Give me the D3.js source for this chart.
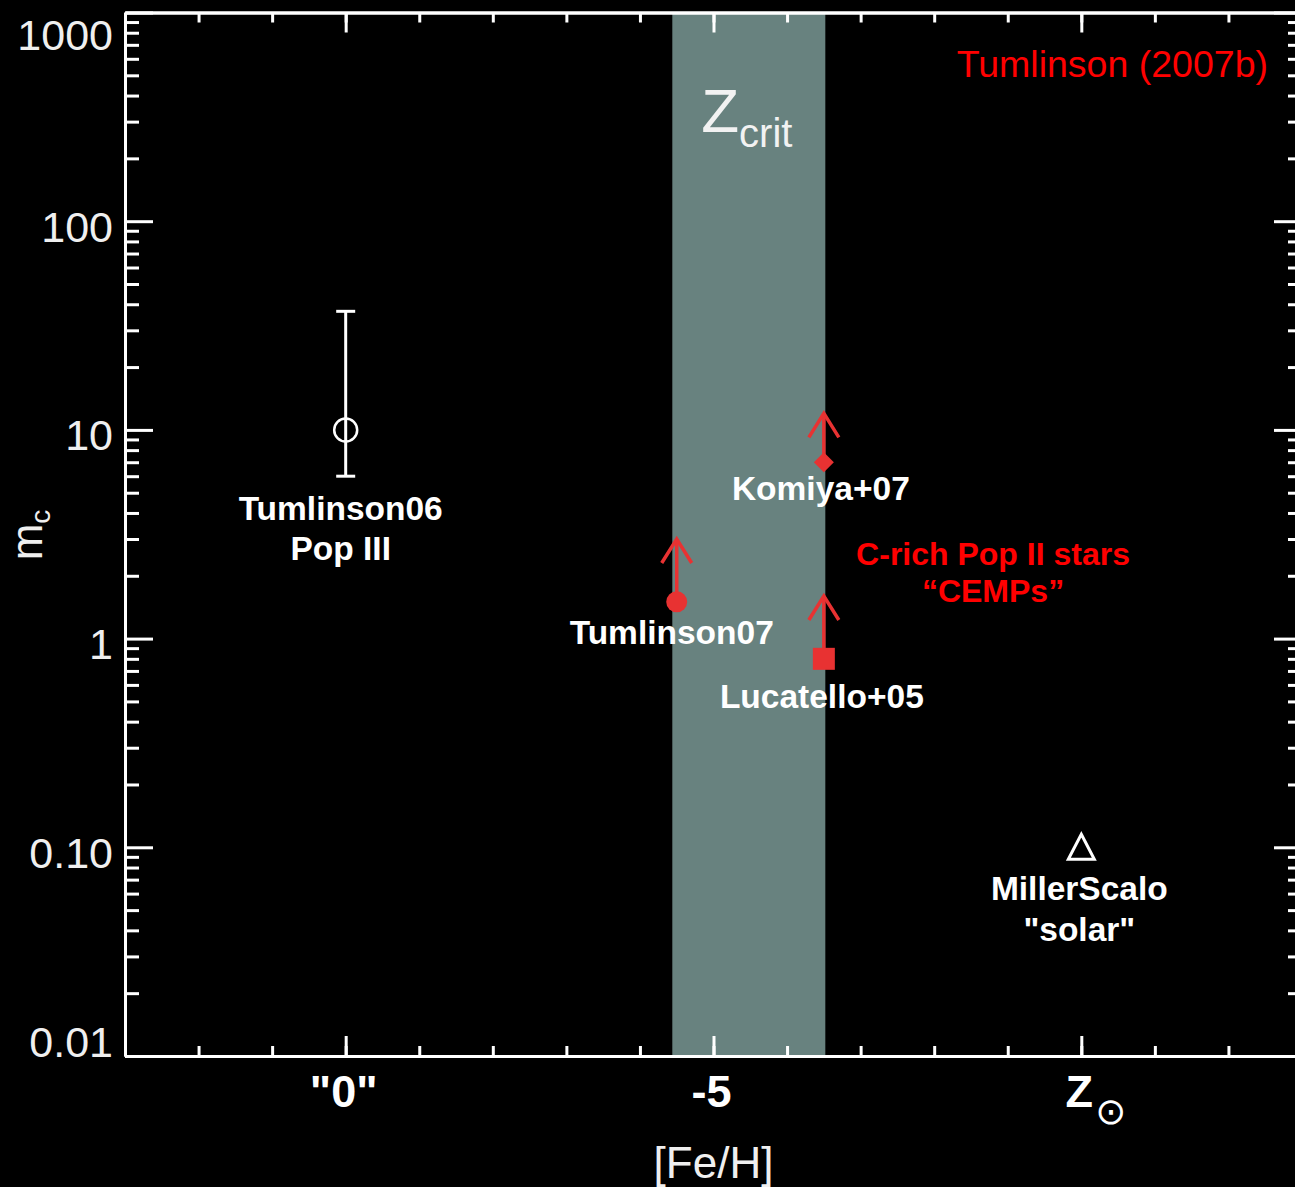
<!DOCTYPE html>
<html><head><meta charset="utf-8">
<script src="https://cdn.jsdelivr.net/npm/d3@7"></script>
<style>body{margin:0;background:#000;} svg{display:block;}</style>
</head><body>
<svg id="c" width="1295" height="1187"></svg>
<script>
// ---------- data ----------
const xTickValues = [-10, -5, 0];
const xTickLabels = ['"0"', '-5', 'Z'];
const xMinorTicks = d3.range(-13, 4, 1);
const yTickValues = [0.01, 0.1, 1, 10, 100, 1000];
const yTickLabels = ['0.01', '0.10', '1', '10', '100', '1000'];
const yMinorTicks = [0.01, 0.1, 1, 10, 100].flatMap(d => [2,3,4,5,6,7,8,9].map(k => d * k));
const zcritRange = [-5.56, -3.48];

const pointNames = ['Tumlinson06', 'Tumlinson07', 'Komiya+07', 'Lucatello+05', 'MillerScalo'];
const pointLabels = [['Tumlinson06', 'Pop III'], ['Tumlinson07'], ['Komiya+07'], ['Lucatello+05'], ['MillerScalo', '"solar"']];
const pointFeH = [-10, -5.5, -3.5, -3.5, 0];
const pointMc = [10, 1.5, 7, 0.8, 0.1];
const pointSymbol = ['openCircle', 'filledCircle', 'filledDiamond', 'filledSquare', 'openTriangle'];
const errLow = [6, null, null, null, null];
const errHigh = [37, null, null, null, null];
const limitTip = [null, 3, 12, 1.6, null];

const cempText = ['C-rich Pop II stars', '\u201CCEMPs\u201D'];
const cempPos = [-1.2, 2.26];
const creditText = 'Tumlinson (2007b)';

// ---------- layout ----------
const W = 1295, H = 1187;
const svg = d3.select('#c');
const x = d3.scaleLinear().domain([-13, 3]).range([125, 1302]);
const y = d3.scaleLog().domain([0.01, 1000]).range([1056, 12.5]);
const red = '#e83232';
const labelFont = '"Liberation Sans", Arial, Helvetica, sans-serif';
// label offsets (pixels) per point: dx, baseline dy per line
const labelLayout = [
  {dx: -5, dy: [90, 130]},
  {dx: -5, dy: [42]},
  {dx: -3, dy: [38]},
  {dx: -2, dy: [49]},
  {dx: -2, dy: [53, 94]}
];

svg.append('rect').attr('width', W).attr('height', H).attr('fill', '#000');

// Zcrit band
svg.append('rect')
  .attr('x', x(zcritRange[0])).attr('width', x(zcritRange[1]) - x(zcritRange[0]))
  .attr('y', y(1000)).attr('height', y(0.01) - y(1000))
  .attr('fill', '#68827f');

const zt = svg.append('text')
  .attr('x', (x(zcritRange[0]) + x(zcritRange[1])) / 2 - 2).attr('y', 132)
  .attr('text-anchor', 'middle').attr('fill', '#f2f2f2')
  .style('font-family', labelFont);
zt.append('tspan').attr('font-size', 62).text('Z');
zt.append('tspan').attr('font-size', 40).attr('dy', 15).text('crit');

// axes
function styleAxis(g) {
  g.selectAll('path, line').attr('stroke', '#fff').attr('stroke-width', 3);
  g.selectAll('text').remove();
}
svg.append('g').attr('transform', 'translate(125,0)')
  .call(d3.axisLeft(y).tickValues(yTickValues).tickSize(-28).tickSizeOuter(0).tickFormat(''))
  .call(styleAxis);
svg.append('g').attr('transform', 'translate(125,0)')
  .call(d3.axisLeft(y).tickValues(yMinorTicks).tickSize(-14).tickSizeOuter(0).tickFormat(''))
  .call(styleAxis);
svg.append('g').attr('transform', 'translate(1302,0)')
  .call(d3.axisRight(y).tickValues(yTickValues).tickSize(-28).tickSizeOuter(0).tickFormat(''))
  .call(styleAxis);
svg.append('g').attr('transform', 'translate(1302,0)')
  .call(d3.axisRight(y).tickValues(yMinorTicks).tickSize(-14).tickSizeOuter(0).tickFormat(''))
  .call(styleAxis);
svg.append('g').attr('transform', 'translate(0,1056)')
  .call(d3.axisBottom(x).tickValues(xTickValues).tickSize(-20).tickSizeOuter(0).tickFormat(''))
  .call(styleAxis);
svg.append('g').attr('transform', 'translate(0,1056)')
  .call(d3.axisBottom(x).tickValues(xMinorTicks).tickSize(-10).tickSizeOuter(0).tickFormat(''))
  .call(styleAxis);
svg.append('g').attr('transform', 'translate(0,12.5)')
  .call(d3.axisTop(x).tickValues(xTickValues).tickSize(-20).tickSizeOuter(0).tickFormat(''))
  .call(styleAxis);
svg.append('g').attr('transform', 'translate(0,12.5)')
  .call(d3.axisTop(x).tickValues(xMinorTicks).tickSize(-10).tickSizeOuter(0).tickFormat(''))
  .call(styleAxis);

// y tick labels
svg.append('g').selectAll('text').data(yTickValues).join('text')
  .attr('x', 113)
  .attr('y', d => Math.min(1057, Math.max(50, y(d) + 20.5)))
  .attr('text-anchor', 'end').attr('fill', '#efefef')
  .attr('font-size', 43).style('font-family', labelFont)
  .text((d, i) => yTickLabels[i]);

// x tick labels
svg.append('g').selectAll('text').data(xTickValues).join('text')
  .attr('x', d => x(d) - 2)
  .attr('y', 1107)
  .attr('text-anchor', 'middle').attr('fill', '#fff')
  .attr('font-size', 45).attr('font-weight', 'bold').style('font-family', labelFont)
  .text((d, i) => xTickLabels[i]);
// solar symbol after Z
svg.append('text')
  .attr('x', x(xTickValues[2]) + 14).attr('y', 1124)
  .attr('fill', '#fff').attr('font-size', 37)
  .style('font-family', '"DejaVu Sans", sans-serif')
  .text('\u2299');

// axis titles
svg.append('text')
  .attr('x', x(-5)).attr('y', 1178).attr('text-anchor', 'middle')
  .attr('fill', '#efefef').attr('font-size', 44).style('font-family', labelFont)
  .text('[Fe/H]');
const yt = svg.append('text')
  .attr('transform', 'translate(42,535) rotate(-90)')
  .attr('text-anchor', 'middle').attr('fill', '#efefef').style('font-family', labelFont);
yt.append('tspan').attr('font-size', 44).text('m');
yt.append('tspan').attr('font-size', 28).attr('dy', 8).text('c');

// credit
svg.append('text')
  .attr('x', 1268).attr('y', 77).attr('text-anchor', 'end')
  .attr('fill', '#ff0000').attr('font-size', 37.5).style('font-family', labelFont)
  .text(creditText);

// error bars
pointFeH.forEach((fx, i) => {
  if (errLow[i] == null) return;
  const cx = x(fx);
  const g = svg.append('g').attr('stroke', '#fff').attr('stroke-width', 3);
  g.append('line').attr('x1', cx).attr('x2', cx).attr('y1', y(errLow[i])).attr('y2', y(errHigh[i]));
  g.append('line').attr('x1', cx - 9.5).attr('x2', cx + 9.5).attr('y1', y(errLow[i])).attr('y2', y(errLow[i]));
  g.append('line').attr('x1', cx - 9.5).attr('x2', cx + 9.5).attr('y1', y(errHigh[i])).attr('y2', y(errHigh[i]));
});

// lower-limit arrows
pointFeH.forEach((fx, i) => {
  if (limitTip[i] == null) return;
  const cx = x(fx), y0 = y(pointMc[i]), yt = y(limitTip[i]);
  const g = svg.append('g').attr('stroke', red).attr('stroke-width', 3.5).attr('fill', 'none');
  g.append('line').attr('x1', cx).attr('x2', cx).attr('y1', y0).attr('y2', yt);
  g.append('path').attr('d', `M${cx - 15},${yt + 24}L${cx},${yt}L${cx + 15},${yt + 24}`);
});

// symbols
pointFeH.forEach((fx, i) => {
  const cx = x(fx), cy = y(pointMc[i]);
  const s = pointSymbol[i];
  if (s === 'openCircle') {
    svg.append('circle').attr('cx', cx).attr('cy', cy).attr('r', 11.5)
      .attr('fill', 'none').attr('stroke', '#fff').attr('stroke-width', 2.5);
  } else if (s === 'filledCircle') {
    svg.append('circle').attr('cx', cx).attr('cy', cy).attr('r', 10.5).attr('fill', red);
  } else if (s === 'filledDiamond') {
    svg.append('path').attr('d', `M${cx},${cy - 10}L${cx + 10},${cy}L${cx},${cy + 10}L${cx - 10},${cy}Z`).attr('fill', red);
  } else if (s === 'filledSquare') {
    svg.append('rect').attr('x', cx - 11).attr('y', cy - 11).attr('width', 22).attr('height', 22).attr('fill', red);
  } else if (s === 'openTriangle') {
    svg.append('path').attr('d', `M${cx},${cy - 13}L${cx + 13},${cy + 12}L${cx - 13},${cy + 12}Z`)
      .attr('fill', 'none').attr('stroke', '#fff').attr('stroke-width', 3);
  }
});

// point labels
pointFeH.forEach((fx, i) => {
  const cx = x(fx), cy = y(pointMc[i]);
  pointLabels[i].forEach((t, j) => {
    svg.append('text')
      .attr('x', cx + labelLayout[i].dx).attr('y', cy + labelLayout[i].dy[j])
      .attr('text-anchor', 'middle').attr('fill', '#fff')
      .attr('font-size', 33.5).attr('font-weight', 'bold').style('font-family', labelFont)
      .text(t);
  });
});

// CEMP annotation
cempText.forEach((t, j) => {
  svg.append('text')
    .attr('x', x(cempPos[0])).attr('y', y(cempPos[1]) + j * 37)
    .attr('text-anchor', 'middle').attr('fill', '#ff0000')
    .attr('font-size', 32).attr('font-weight', 'bold').style('font-family', labelFont)
    .text(t);
});
</script>
</body></html>
